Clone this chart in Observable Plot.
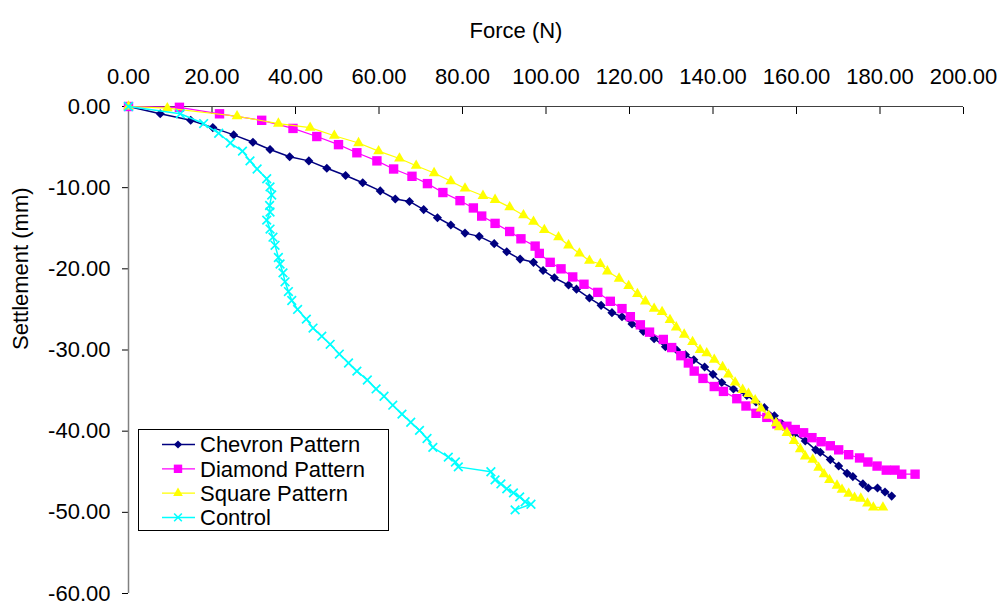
<!DOCTYPE html>
<html><head><meta charset="utf-8">
<script src="https://cdn.jsdelivr.net/npm/d3@7"></script>
<script src="https://cdn.jsdelivr.net/npm/@observablehq/plot@0.6"></script>
<style>
body{margin:0;background:#fff;}
#wrap{position:relative;width:1005px;height:607px;font-family:"Liberation Sans",Arial,sans-serif;}
#legend{position:absolute;left:138px;top:429px;width:251px;height:102px;}
</style></head><body><div id="wrap"></div>
<script>
// ---- data (Force in N, Settlement in mm) ----
const xTicks = [0, 20, 40, 60, 80, 100, 120, 140, 160, 180, 200];
const yTicks = [0, -10, -20, -30, -40, -50, -60];
const seriesNames = ["Chevron Pattern", "Diamond Pattern", "Square Pattern", "Control"];

const chevronF = [0, 7.6, 14.9, 20.2, 25.2, 29.8, 33.9, 38.6, 43.2, 47.5, 52.0, 56.1, 60.3, 63.9, 67.3, 70.7, 74.0, 77.2, 80.6, 84.0, 87.6, 90.6, 93.8, 97.0, 99.3, 102.0, 105.4, 107.3, 110.4, 113.2, 115.8, 118.2, 120.6, 123.3, 125.9, 128.6, 131.3, 133.4, 135.4, 138.0, 140.0, 142.1, 144.9, 148.1, 150.3, 152.3, 154.7, 156.5, 159.5, 162.1, 164.6, 165.7, 168.1, 170.1, 172.1, 173.5, 175.9, 177.2, 179.4, 181.2, 182.8];
const chevronS = [0, -0.9, -1.7, -2.6, -3.5, -4.4, -5.3, -6.2, -6.7, -7.6, -8.5, -9.4, -10.4, -11.4, -11.7, -12.7, -13.7, -14.6, -15.6, -16.0, -16.9, -17.9, -18.8, -19.2, -20.2, -21.1, -22.0, -22.5, -23.6, -24.5, -25.4, -25.9, -26.8, -27.7, -28.6, -29.6, -30.0, -30.6, -31.2, -32.1, -33.0, -34.0, -34.8, -35.6, -36.4, -37.1, -38.1, -39.1, -40.3, -41.2, -42.3, -42.6, -43.5, -44.3, -45.2, -45.6, -46.5, -47.0, -47.0, -47.5, -48.0];

const diamondF = [0, 12.2, 21.8, 31.9, 39.4, 45.1, 50.3, 54.7, 59.5, 63.5, 67.9, 71.6, 75.3, 79.4, 82.6, 84.6, 87.8, 91.3, 94.0, 97.4, 98.4, 101.0, 103.6, 106.4, 109.1, 112.4, 115.4, 118.2, 120.2, 122.6, 124.8, 128.1, 130.1, 132.3, 134.1, 135.5, 137.6, 140.3, 142.5, 145.7, 147.9, 150.3, 152.9, 155.3, 157.7, 159.7, 161.7, 163.7, 165.9, 168.1, 170.1, 172.5, 175.1, 177.1, 179.3, 181.5, 183.6, 185.2, 188.4];
const diamondS = [0, -0.1, -0.9, -1.7, -2.7, -3.7, -4.7, -5.7, -6.7, -7.7, -8.6, -9.5, -10.6, -11.6, -12.5, -13.5, -14.4, -15.4, -16.3, -17.2, -18.1, -19.2, -20.0, -21.0, -21.9, -22.9, -24.0, -24.9, -25.9, -26.9, -27.8, -28.7, -29.7, -30.7, -31.6, -32.6, -33.5, -34.5, -35.1, -36.0, -36.9, -37.8, -38.3, -39.1, -39.4, -39.8, -40.2, -40.8, -41.3, -41.8, -42.3, -42.9, -43.3, -43.8, -44.3, -44.8, -44.8, -45.3, -45.3];

const squareF = [0, 9.3, 26.0, 35.9, 43.5, 49.3, 55.1, 59.9, 64.9, 68.9, 73.2, 77.2, 80.6, 84.9, 87.8, 91.3, 94.6, 97.0, 99.6, 103.0, 105.4, 108.0, 110.4, 113.0, 114.7, 117.5, 119.8, 121.9, 123.8, 125.9, 127.8, 129.7, 131.2, 133.1, 135.1, 136.9, 138.5, 140.3, 142.3, 143.7, 145.3, 147.1, 148.5, 150.1, 151.5, 153.3, 155.1, 155.9, 157.7, 159.4, 160.9, 162.1, 163.9, 165.3, 166.6, 167.9, 169.7, 170.9, 172.5, 173.9, 175.4, 177.0, 178.4, 180.7];
const squareS = [0, -0.2, -1.2, -2.1, -2.6, -3.6, -4.5, -5.5, -6.4, -7.3, -8.2, -9.2, -10.1, -11.0, -11.5, -12.4, -13.4, -14.2, -15.2, -16.1, -17.1, -18.1, -19.0, -19.4, -20.3, -21.2, -22.1, -23.1, -24.0, -24.9, -25.3, -26.3, -27.2, -28.1, -29.0, -30.0, -30.4, -31.2, -32.1, -33.0, -34.0, -34.9, -35.4, -36.2, -37.2, -38.1, -39.0, -39.5, -40.2, -41.2, -42.2, -43.1, -43.5, -44.5, -45.3, -46.0, -46.7, -47.2, -47.7, -48.2, -48.3, -48.9, -49.4, -49.4];

const controlF = [0, 12.4, 18.0, 21.6, 24.4, 27.3, 29.1, 30.8, 33.1, 33.9, 34.3, 33.8, 33.9, 33.1, 33.9, 34.6, 35.1, 35.9, 36.3, 37.0, 37.5, 38.3, 39.1, 40.5, 42.6, 44.2, 46.3, 48.3, 50.5, 52.7, 54.7, 57.2, 59.3, 61.2, 63.3, 65.5, 67.6, 69.7, 71.5, 72.9, 76.6, 78.3, 79.0, 86.8, 87.8, 89.2, 90.6, 92.2, 93.7, 95.0, 96.4, 92.6];
const controlS = [0, -0.9, -2.1, -3.3, -4.5, -5.5, -6.7, -7.7, -8.9, -9.9, -10.9, -12.2, -13.0, -14.0, -15.1, -16.1, -17.1, -18.6, -19.4, -20.5, -21.6, -22.8, -23.9, -25.0, -26.2, -27.3, -28.3, -29.3, -30.5, -31.6, -32.6, -33.7, -34.8, -35.7, -36.8, -37.9, -38.9, -39.9, -40.9, -42.0, -43.2, -43.8, -44.4, -45.0, -46.0, -46.5, -47.1, -47.6, -48.1, -48.7, -49.0, -49.7];

// ---- styling ----
const styles = [
  {name: seriesNames[0], F: chevronF, S: chevronS, color: "#000080", symbol: "diamond2", r: 4.1, filled: true, lw: 1.5},
  {name: seriesNames[1], F: diamondF, S: diamondS, color: "#FF00FF", symbol: "square", r: 5.3, filled: true, lw: 1.2},
  {name: seriesNames[2], F: squareF, S: squareS, color: "#FFFF00", symbol: "triangle", r: 4.0, filled: true, lw: 1.2},
  {name: seriesNames[3], F: controlF, S: controlS, color: "#00FFFF", symbol: "times", r: 4.0, filled: false, lw: 1.5}
];

const fmt = d => d.toFixed(2);
const seriesMarks = styles.flatMap(s => {
  const data = s.F.map((f, i) => ({F: f, S: s.S[i]}));
  return [
    Plot.line(data, {x: "F", y: "S", stroke: s.color, strokeWidth: s.lw}),
    Plot.dot(data, s.filled
      ? {x: "F", y: "S", symbol: s.symbol, r: s.r, fill: s.color, stroke: "none"}
      : {x: "F", y: "S", symbol: s.symbol, r: s.r, fill: "none", stroke: s.color, strokeWidth: 1.7})
  ];
});

const chart = Plot.plot({
  width: 1005,
  height: 607,
  marginLeft: 128,
  marginRight: 42,
  marginTop: 106,
  marginBottom: 14,
  style: {fontFamily: "'Liberation Sans', Arial, sans-serif", fontSize: "22px", background: "white", color: "black", overflow: "visible"},
  x: {domain: [0, 200]},
  y: {domain: [-60, 0]},
  marks: [
    Plot.axisX({anchor: "top", ticks: xTicks, tickSize: -7, tickPadding: 30, tickFormat: fmt, fontSize: 22, label: null}),
    Plot.axisY({anchor: "left", ticks: yTicks, tickSize: 6, tickPadding: 12, tickFormat: fmt, fontSize: 22, label: null}),
    Plot.ruleY([0], {stroke: "#404040", strokeWidth: 1.2}),
    Plot.ruleX([0], {stroke: "#808080", strokeWidth: 1.5}),
    ...seriesMarks,
    Plot.text(["Force (N)"], {text: d => d, frameAnchor: "top", dx: -30, dy: -84, fontSize: 22}),
    Plot.text(["Settlement (mm)"], {text: d => d, frameAnchor: "left", rotate: -90, dx: -108, fontSize: 22})
  ]
});
const wrap = document.getElementById("wrap");
wrap.appendChild(chart);

// ---- legend ----
const lg = d3.select(wrap).append("div").attr("id", "legend")
  .append("svg").attr("width", 251).attr("height", 102)
  .style("font-family", "'Liberation Sans', Arial, sans-serif");
lg.append("rect").attr("x", 0.5).attr("y", 0.5).attr("width", 250).attr("height", 101)
  .attr("fill", "white").attr("stroke", "black");
const symMap = {diamond2: d3.symbolDiamond2, square: d3.symbolSquare, triangle: d3.symbolTriangle, times: d3.symbolTimes};
styles.forEach((s, i) => {
  const cy = 15.5 + i * 24.3;
  const g = lg.append("g");
  g.append("line").attr("x1", 24).attr("x2", 57).attr("y1", cy).attr("y2", cy)
    .attr("stroke", s.color).attr("stroke-width", s.lw);
  g.append("path").attr("transform", `translate(40,${cy})`)
    .attr("d", d3.symbol(symMap[s.symbol], s.r * s.r * Math.PI * 0.8)())
    .attr("fill", s.filled ? s.color : "none")
    .attr("stroke", s.filled ? "none" : s.color).attr("stroke-width", 1.6);
  g.append("text").attr("x", 62).attr("y", cy).attr("dy", "0.36em")
    .attr("font-size", 22).attr("fill", "black").text(s.name);
});
</script>
</body></html>
